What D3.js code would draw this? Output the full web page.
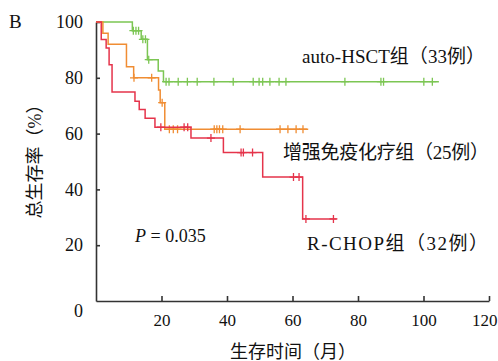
<!DOCTYPE html>
<html><head><meta charset="utf-8">
<script src="https://cdn.jsdelivr.net/npm/d3@7"></script>
<style>
body{margin:0;background:#fff;}
svg{display:block;}
text{font-family:"Liberation Serif","Times New Roman","Noto Sans CJK SC",serif;fill:#111;}
.cjk{font-family:"Liberation Serif","Noto Sans CJK SC",serif;}
</style></head>
<body>
<svg id="c" width="498" height="361"></svg>
<script>
// ---- data ----
const yTicks = [0, 20, 40, 60, 80, 100];
const xTicks = [20, 40, 60, 80, 100, 120];

const greenTimes  = [11.1, 13.8, 15.7, 19.0, 20.6];
const greenSurv   = [96.9, 93.8, 86.5, 82.4, 78.6];
const greenCensor = [11.4, 12.2, 13.0, 14.3, 15.1, 16.1, 21.4, 22.3, 25.1, 27.9, 30.9, 36.0, 41.9, 48.0, 49.8, 50.9, 53.1, 55.9, 58.0, 76.0, 87.0, 87.8, 100.1, 102.7];
const greenEnd = 104.7;

const orangeTimes  = [2.1, 3.7, 9.3, 11.5, 19.1, 19.6, 21.0];
const orangeSurv   = [96, 92, 84, 80, 75.6, 71.1, 61.6];
const orangeCensor = [11.6, 17.0, 20.2, 22.4, 23.6, 24.9, 36.1, 36.9, 37.7, 38.7, 44.0, 56.2, 58.6, 61.1, 63.2];
const orangeEnd = 64.8;

const redTimes  = [1.6, 3.1, 4.0, 4.9, 11.9, 13.2, 15.0, 18.0, 29.0, 38.9, 50.9, 63.1];
const redSurv   = [93.7, 90.7, 84.7, 74.9, 71.6, 68.6, 65.5, 62.3, 58.4, 53.2, 44.4, 29.4];
const redCensor = [19.8, 26.9, 28.0, 35.1, 44.3, 45.0, 47.8, 60.3, 62.0, 64.1, 72.5];
const redEnd = 73.5;

const groupNames = ["auto-HSCT组（33例）", "增强免疫化疗组（25例）", "R-CHOP组（32例）"];
const groupColors = ["#7cc653", "#f08d33", "#e5344b"];

// ---- chart ----
const svg = d3.select("#c");
const x = d3.scaleLinear().domain([0, 120]).range([96, 489]);
const y = d3.scaleLinear().domain([0, 100]).range([301, 22]);

const axisColor = "#333";

// y axis (ticks inward)
const gy = svg.append("g").attr("transform", `translate(${x(0)},0)`)
  .call(d3.axisLeft(y).tickValues(yTicks).tickSizeInner(-4).tickSizeOuter(0).tickPadding(13));
gy.select(".domain").attr("stroke", axisColor).attr("stroke-width", 1.6);
gy.selectAll(".tick line").attr("stroke", axisColor).attr("stroke-width", 1.6);
gy.selectAll(".tick text").attr("font-size", 18).attr("font-family", "Liberation Serif").attr("fill", "#111");
gy.selectAll(".tick").filter(d => d === 0).select("line").remove();
gy.selectAll(".tick").filter(d => d === 0).select("text").attr("dy", "0.85em");

// x axis (ticks inward)
const gx = svg.append("g").attr("transform", `translate(0,${y(0)})`)
  .call(d3.axisBottom(x).tickValues(xTicks).tickSizeInner(-5).tickSizeOuter(0).tickPadding(13));
gx.select(".domain").attr("stroke", axisColor).attr("stroke-width", 1.6);
gx.selectAll(".tick line").attr("stroke", axisColor).attr("stroke-width", 1.6);
gx.selectAll(".tick text").attr("font-size", 17).attr("font-family", "Liberation Serif").attr("fill", "#111");
gx.selectAll(".tick").filter(d => d === 120).select("text").attr("text-anchor", "end").attr("x", 8);

// KM curves
function survAt(times, surv, t) {
  let s = 100;
  for (let i = 0; i < times.length; i++) if (times[i] <= t) s = surv[i];
  return s;
}
const line = d3.line().x(d => x(d[0])).y(d => y(d[1])).curve(d3.curveStepAfter);
const groups = [
  {times: greenTimes, surv: greenSurv, cens: greenCensor, end: greenEnd, color: groupColors[0]},
  {times: orangeTimes, surv: orangeSurv, cens: orangeCensor, end: orangeEnd, color: groupColors[1]},
  {times: redTimes, surv: redSurv, cens: redCensor, end: redEnd, color: groupColors[2]},
];
groups.forEach(g => {
  const pts = [[0, 100]].concat(g.times.map((t, i) => [t, g.surv[i]]));
  pts.push([g.end, g.surv[g.surv.length - 1]]);
  svg.append("path").attr("d", line(pts)).attr("fill", "none")
    .attr("stroke", g.color).attr("stroke-width", 1.5);
  const h = 4;
  svg.append("g").selectAll("path").data(g.cens).join("path")
    .attr("d", t => {
      const cx = x(t), cy = y(survAt(g.times, g.surv, t));
      return `M${cx - h},${cy}H${cx + h}M${cx},${cy - h}V${cy + h}`;
    })
    .attr("stroke", g.color).attr("stroke-width", 1.3).attr("fill", "none");
});

// texts
svg.append("text").attr("x", 9).attr("y", 28).attr("font-size", 19).text("B");
svg.append("text").attr("x", 302).attr("y", 63).attr("font-size", 19).attr("class", "cjk")
  .attr("textLength", 183).attr("lengthAdjust", "spacing").text(groupNames[0]);
svg.append("text").attr("x", 283).attr("y", 159).attr("font-size", 19).attr("class", "cjk")
  .attr("textLength", 206).attr("lengthAdjust", "spacing").text(groupNames[1]);
svg.append("text").attr("x", 307).attr("y", 250).attr("font-size", 19).attr("class", "cjk")
  .attr("textLength", 181).attr("lengthAdjust", "spacing").text(groupNames[2]);

const pt = svg.append("text").attr("x", 135).attr("y", 242).attr("font-size", 18);
pt.append("tspan").attr("font-style", "italic").text("P");
pt.append("tspan").text(" = 0.035");

svg.append("text").attr("x", 293).attr("y", 358).attr("text-anchor", "middle")
  .attr("font-size", 18).attr("class", "cjk").text("生存时间（月）");
svg.append("text").attr("transform", "translate(41,157) rotate(-90)").attr("text-anchor", "middle")
  .attr("font-size", 18).attr("class", "cjk").text("总生存率（%）");
</script>
</body></html>
